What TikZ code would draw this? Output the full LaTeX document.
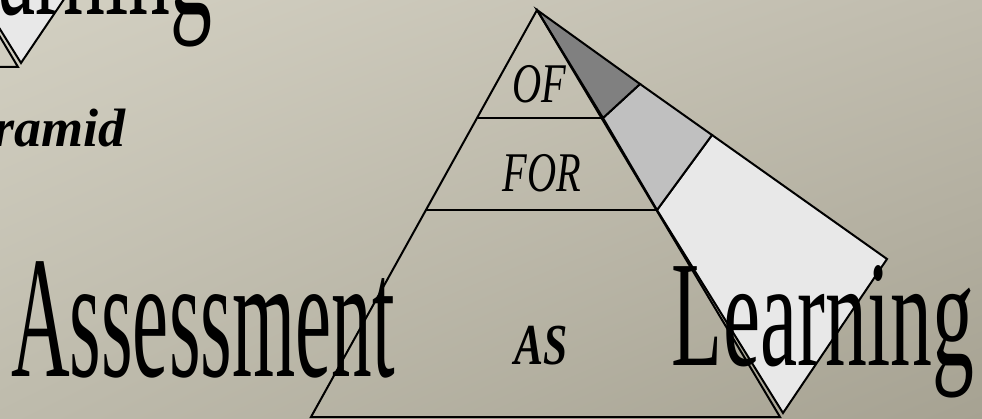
\documentclass[tikz,border=0pt]{standalone}
\usepackage{fontspec}
\usetikzlibrary{shadings}
\setmainfont{Liberation Serif}
\definecolor{bgUL}{RGB}{211,208,194}
\definecolor{bgUR}{RGB}{192,188,174}
\definecolor{bgLL}{RGB}{190,187,172}
\definecolor{bgLR}{RGB}{166,162,146}
\definecolor{faceLight}{RGB}{232,232,232}
\definecolor{faceMid}{RGB}{192,192,192}
\definecolor{faceDark}{RGB}{128,128,128}
\begin{document}
\begin{tikzpicture}[x=1pt,y=-1pt,
  edge/.style={draw=black,line width=2pt,line join=miter},
  bigword/.style={inner sep=0pt,font=\fontsize{174}{174}\selectfont},
  tierlabel/.style={inner sep=0pt,font=\fontsize{56}{56}\selectfont\itshape,xscale=0.72}]
\useasboundingbox (0,0) rectangle (982,419);
\clip (0,0) rectangle (982,419);
% background
\shade[upper left=bgUL,upper right=bgUR,lower left=bgLL,lower right=bgLR]
  (0,0) rectangle (982,419);

% copy of the diagram at the top left (cut by the frame)
\begin{scope}[shift={(-762,-350)}]
  \coordinate (cA) at (537,10);
  \coordinate (cR) at (780,417);
  \coordinate (cL) at (311,417);
  \coordinate (cF) at (657,210);
  \coordinate (cM) at (712,135);
  \coordinate (cT) at (887,259);
  \coordinate (cB) at (783,413);
  \filldraw[edge,fill=faceLight] (cF) -- (cM) -- (cT) -- (cB) -- cycle;
  \draw[edge] (cA) -- (cR) -- (cL);
\end{scope}
\node[inner sep=0pt,font=\fontsize{151}{151}\selectfont,xscale=0.554,anchor=base east] (copyword) at (212,15) {arning};
\node[inner sep=0pt,font=\fontsize{54}{54}\selectfont\bfseries\itshape,anchor=base east] (pyr) at (126,147) {ramid};

% main pyramid points
\coordinate (apex) at (537,10);
\coordinate (bl) at (311,417);
\coordinate (br) at (780,417);
\coordinate (ofl) at (477,118);
\coordinate (ofr) at (603,118);
\coordinate (forl) at (426,210);
\coordinate (forr) at (657,210);
% side face points
\coordinate (s1) at (640,84);
\coordinate (s2) at (712,135);
\coordinate (stip) at (887,259);
\coordinate (sbot) at (783,413);

% side face
\filldraw[edge,fill=faceLight] (forr) -- (s2) -- (stip) -- (sbot) -- cycle;
\filldraw[edge,fill=faceMid] (ofr) -- (s1) -- (s2) -- (forr) -- cycle;
\filldraw[edge,fill=faceDark] (apex) -- (s1) -- (ofr) -- cycle;

% pyramid
\draw[edge] (apex) -- (br) -- (bl) -- cycle;
\draw[edge] (ofl) -- (ofr);
\draw[edge] (forl) -- (forr);

% labels
\node[tierlabel,anchor=base] (of) at (539,103) {OF};
\node[tierlabel,anchor=base] (for) at (542,192) {FOR};
\node[inner sep=0pt,font=\fontsize{58}{58}\selectfont\bfseries\itshape,xscale=0.75,anchor=base] (as) at (541,364) {AS};

\node[bigword,xscale=0.467,anchor=base west] (assess) at (11,377) {Assessment};
\node[inner sep=0pt,font=\fontsize{151}{151}\selectfont,xscale=0.554,anchor=base east] (learn) at (974,365) {Learning};
\end{tikzpicture}
\end{document}
